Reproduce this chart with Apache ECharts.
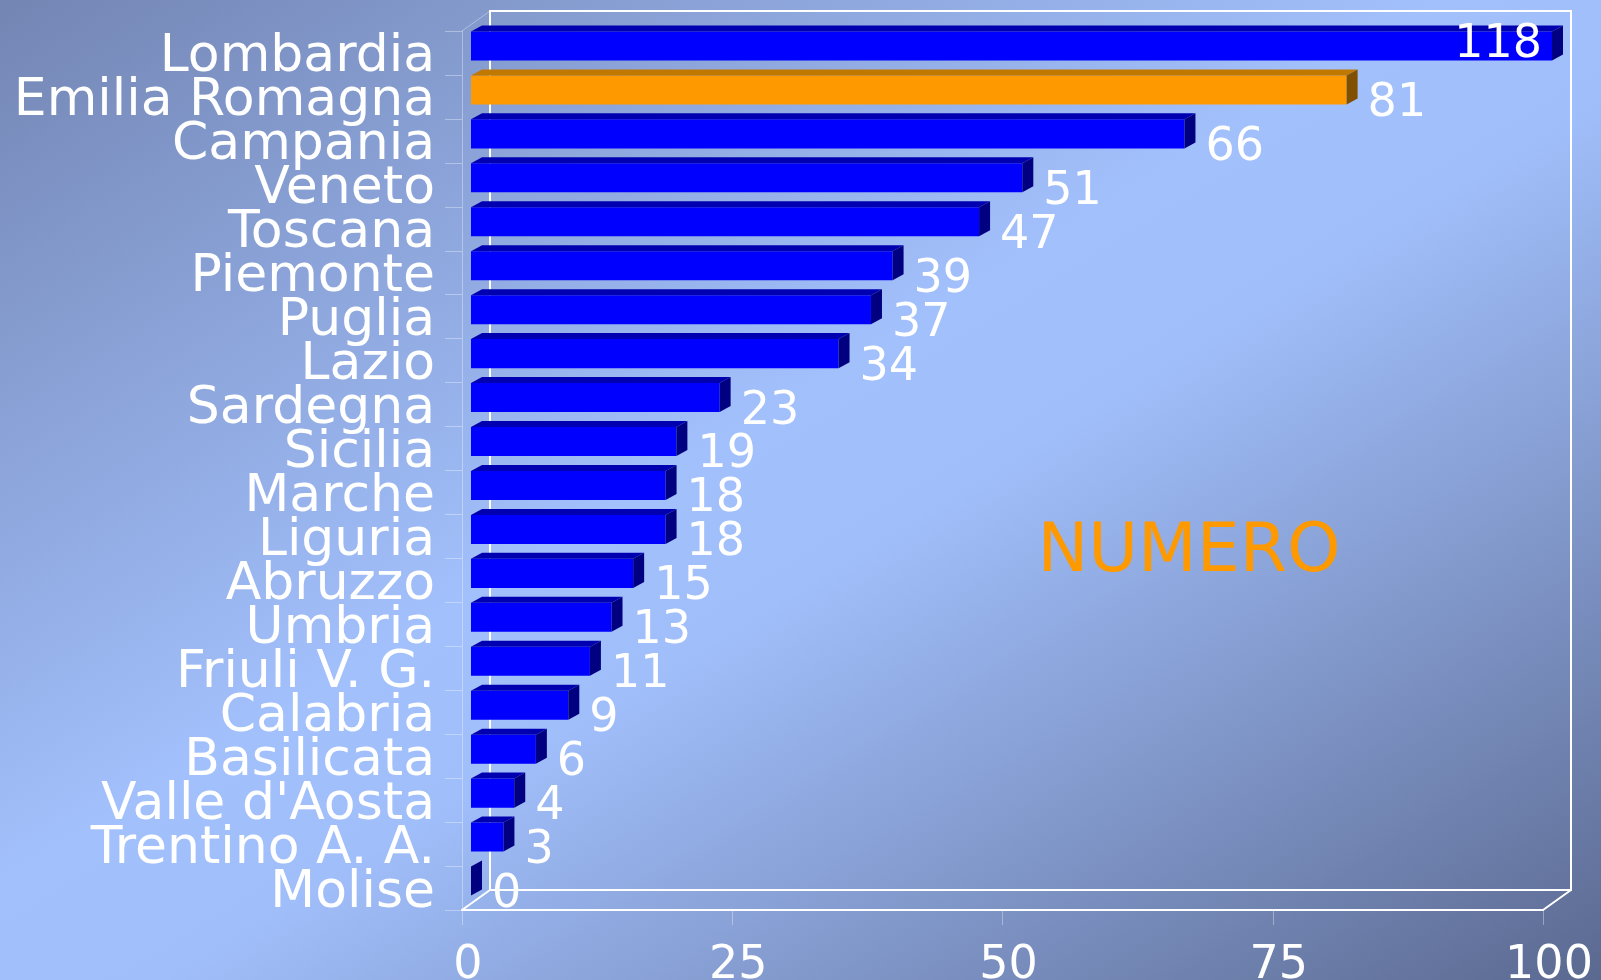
<!DOCTYPE html>
<html>
<head>
<meta charset="utf-8">
<title>NUMERO</title>
<script src="https://cdn.jsdelivr.net/npm/echarts@6/dist/echarts.min.js"></script>
<style>
    html, body {
        margin: 0;
        padding: 0;
        width: 1601px;
        height: 980px;
        overflow: hidden;
        background: linear-gradient(to bottom right, #7385b3 0%, #a2c0fc 45%, #a0befa 55%, #5b6990 100%);
    }
    #chart {
        width: 1601px;
        height: 980px;
    }
</style>
</head>
<body>
<div id="chart"></div>
<script>
// regioni
const regions = [
    'Lombardia', 'Emilia Romagna', 'Campania', 'Veneto', 'Toscana',
    'Piemonte', 'Puglia', 'Lazio', 'Sardegna', 'Sicilia',
    'Marche', 'Liguria', 'Abruzzo', 'Umbria', 'Friuli V. G.',
    'Calabria', 'Basilicata', "Valle d'Aosta", 'Trentino A. A.', 'Molise'
]
// numero per regione
const values = [118, 81, 66, 51, 47, 39, 37, 34, 23, 19, 18, 18, 15, 13, 11, 9, 6, 4, 3, 0]
// asse x
const xMin = 0
const xMax = 100
const xStep = 25
// barra evidenziata
const highlight = 'Emilia Romagna'

const FONT = '"DejaVu Sans", Verdana, sans-serif'
const faint = 'rgba(255,255,255,0.35)'
// profondità della scatola 3D e delle barre
const boxDepth = [28, -20]
const barShift = [9, -7]
const barDepth = [11, -6]

const palette = {
    normal: { front: '#0000ff', top: '#0000b0', side: '#000080' },
    highlight: { front: '#ff9900', top: '#c07800', side: '#805000' }
}

// cornice (pareti e pavimento)
const renderFrame = (params, api) => {
    const { x, y, width, height } = params.coordSys
    const bx = x + boxDepth[0]
    const by = y + boxDepth[1]
    const line = (points, stroke, lineWidth) => ({
        type: 'polyline',
        shape: { points },
        style: { stroke, lineWidth, fill: 'none' }
    })
    return {
        type: 'group',
        children: [
            {
                type: 'rect',
                shape: { x: bx, y: by, width, height },
                style: { fill: 'none', stroke: '#fff', lineWidth: 2 }
            },
            line([[x, y + height], [bx, by + height]], '#fff', 2),
            line([[x + width, y + height], [bx + width, by + height]], '#fff', 2),
            line([[x, y], [bx, by]], faint, 1)
        ]
    }
}

// barre 3D
const renderBar = (params, api) => {
    const v = api.value(0)
    const cat = api.value(1)
    const shown = Math.min(v, xMax)
    const p0 = api.coord([xMin, cat])
    const p1 = api.coord([shown, cat])
    const band = api.size([0, 1])[1]
    const h = band * 0.66
    const x0 = p0[0] + barShift[0]
    const x1 = p1[0] + barShift[0]
    const y0 = p0[1] + barShift[1] - h / 2
    const [dx, dy] = barDepth
    const c = regions[params.dataIndex] === highlight ? palette.highlight : palette.normal
    const children = [
        {
            type: 'rect',
            shape: { x: x0, y: y0, width: x1 - x0, height: h },
            style: { fill: c.front }
        },
        {
            type: 'polygon',
            shape: { points: [[x0, y0], [x0 + dx, y0 + dy], [x1 + dx, y0 + dy], [x1, y0]] },
            style: { fill: c.top }
        },
        {
            type: 'polygon',
            shape: { points: [[x1, y0], [x1 + dx, y0 + dy], [x1 + dx, y0 + h + dy], [x1, y0 + h]] },
            style: { fill: c.side }
        }
    ]
    const clipped = v > xMax
    children.push({
        type: 'text',
        x: clipped ? x1 - 10 : x1 + dx + 10,
        y: clipped ? p0[1] - 8 : p0[1] + 7,
        style: {
            text: String(v),
            fill: '#fff',
            font: '46px ' + FONT,
            align: clipped ? 'right' : 'left',
            verticalAlign: 'middle'
        }
    })
    return { type: 'group', children }
}

const chart = echarts.init(document.getElementById('chart'))
chart.setOption({
    backgroundColor: 'transparent',
    animation: false,
    grid: { left: 462, right: 58, top: 31, bottom: 70, outerBoundsMode: 'none', containLabel: false },
    xAxis: {
        type: 'value',
        min: xMin,
        max: xMax,
        interval: xStep,
        axisLine: { show: true, lineStyle: { color: '#fff', width: 2 } },
        axisTick: { show: true, length: 15, lineStyle: { color: faint } },
        splitLine: { show: false },
        axisLabel: {
            color: '#fff',
            fontFamily: FONT,
            fontSize: 46,
            margin: 33,
            padding: [0, 0, 0, 12]
        }
    },
    yAxis: {
        type: 'category',
        inverse: true,
        data: regions,
        axisLine: { show: true, lineStyle: { color: faint, width: 1 } },
        axisTick: { show: true, length: 17, lineStyle: { color: faint } },
        splitLine: { show: false },
        axisLabel: {
            interval: 0,
            color: '#fff',
            fontFamily: FONT,
            fontSize: 52,
            margin: 27,
            verticalAlign: 'top',
            lineHeight: 10
        }
    },
    graphic: [
        {
            type: 'text',
            x: 1189,
            y: 553,
            style: {
                text: 'NUMERO',
                fill: '#ff9900',
                font: '68px ' + FONT,
                align: 'center',
                verticalAlign: 'middle'
            },
            z: 0
        }
    ],
    series: [
        {
            type: 'custom',
            name: 'cornice',
            silent: true,
            z: 1,
            renderItem: renderFrame,
            data: [[xMin, regions[0]]]
        },
        {
            type: 'custom',
            name: 'NUMERO',
            z: 2,
            renderItem: renderBar,
            encode: { x: 0, y: 1 },
            data: regions.map((r, i) => [values[i], r])
        }
    ]
})
</script>
</body>
</html>
